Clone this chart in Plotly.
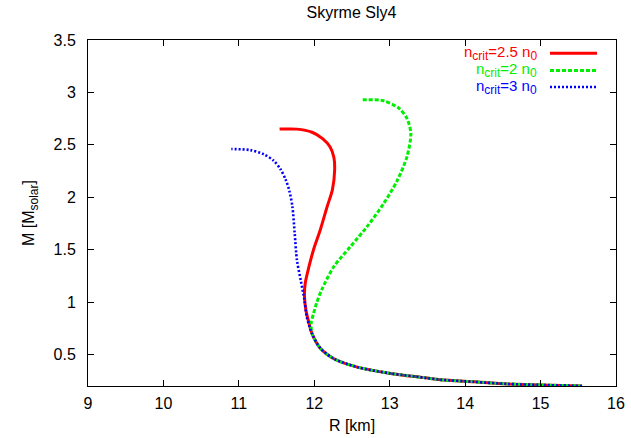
import plotly.graph_objects as go

# Mass-radius relations, Skyrme SLy4 EoS with a phase transition at n_crit.
# Shared low-mass branch (R in km, M in solar masses), ordered from low to high mass.
r_common = [15.55, 15.0, 14.56, 14.12, 13.67, 13.45, 13.01, 12.57, 12.26, 12.08, 11.97]
m_common = [0.20, 0.21, 0.22, 0.24, 0.26, 0.28, 0.32, 0.38, 0.46, 0.56, 0.70]

# n_crit = 2.5 n0
r_25 = [11.93, 11.89, 11.87, 11.88, 11.93, 11.99, 12.08, 12.17, 12.24, 12.27, 12.26, 12.21, 12.11, 11.97, 11.77, 11.54]
m_25 = [0.80, 0.92, 1.05, 1.18, 1.34, 1.50, 1.69, 1.91, 2.07, 2.26, 2.38, 2.48, 2.56, 2.62, 2.65, 2.65]

# n_crit = 2 n0
r_2 = [11.96, 11.99, 12.03, 12.10, 12.26, 12.48, 12.70, 12.92, 13.10, 13.23, 13.28, 13.23, 13.12, 12.92, 12.62]
m_2 = [0.81, 0.89, 0.99, 1.12, 1.34, 1.53, 1.72, 1.94, 2.16, 2.39, 2.61, 2.75, 2.85, 2.92, 2.93]

# n_crit = 3 n0
r_3 = [11.90, 11.87, 11.82, 11.77, 11.74, 11.71, 11.67, 11.62, 11.55, 11.46, 11.33, 11.15, 10.90]
m_3 = [0.86, 1.02, 1.21, 1.40, 1.66, 1.91, 2.06, 2.17, 2.27, 2.35, 2.41, 2.45, 2.46]

SUB = "<sub><span style='font-size:12px'>{}</span></sub>"
labels = [
    "n" + SUB.format("crit") + "=2.5 n" + SUB.format("0"),
    "n" + SUB.format("crit") + "=2 n" + SUB.format("0"),
    "n" + SUB.format("crit") + "=3 n" + SUB.format("0"),
]
colors = ["#ff0000", "#00ee00", "#0000ff"]
dashes = ["solid", "4px,2px", "2px,2px"]
widths = [3, 3, 2.6]

series = [(r_25, m_25), (r_2, m_2), (r_3, m_3)]

FONT = "Liberation Sans, Arial, sans-serif"
FS = 16

fig = go.Figure()
for (rs, ms), col, dsh, w in zip(series, colors, dashes, widths):
    fig.add_trace(go.Scatter(
        x=r_common + rs, y=m_common + ms, mode="lines",
        line=dict(color=col, width=w, dash=dsh, shape="spline", smoothing=0.8),
        showlegend=False, hoverinfo="skip"))

# gnuplot-style key: right-aligned text with a line sample to its right
key_y = [0.962, 0.912, 0.864]
for lab, col, dsh, w, ky in zip(labels, colors, dashes, widths, key_y):
    fig.add_annotation(xref="paper", yref="paper", x=0.855, y=ky, text=lab,
                       showarrow=False, xanchor="right", yanchor="middle",
                       font=dict(family=FONT, size=15, color=col))
    fig.add_shape(type="line", xref="paper", yref="paper",
                  x0=0.875, x1=0.964, y0=ky, y1=ky,
                  line=dict(color=col, width=w, dash=dsh))

axis_common = dict(showgrid=False, zeroline=False, showline=True, linecolor="black",
                   linewidth=1, mirror="allticks", ticks="inside", ticklen=6,
                   tickcolor="black", automargin=False,
                   tickfont=dict(family=FONT, size=FS, color="black"))

fig.update_xaxes(range=[9, 16], tickvals=list(range(9, 17)), ticklabelstandoff=3,
                 title=dict(text="R [km]", font=dict(family=FONT, size=FS, color="black"), standoff=8),
                 **axis_common)
fig.update_yaxes(range=[0.2, 3.5], tickvals=[0.5, 1, 1.5, 2, 2.5, 3, 3.5],
                 ticktext=["0.5", "1", "1.5", "2", "2.5", "3", "3.5"], ticklabelstandoff=8,
                 title=dict(text="M [M" + SUB.format("solar") + "]",
                            font=dict(family=FONT, size=FS, color="black"), standoff=14),
                 **axis_common)

fig.update_layout(
    width=631, height=438,
    margin=dict(l=88, r=15, t=40, b=52),
    paper_bgcolor="white", plot_bgcolor="white",
    title=dict(text="Skyrme Sly4", x=0.557, xanchor="center", y=0.972, yanchor="middle",
               font=dict(family=FONT, size=FS, color="black")),
)

fig.write_html("out.html")
